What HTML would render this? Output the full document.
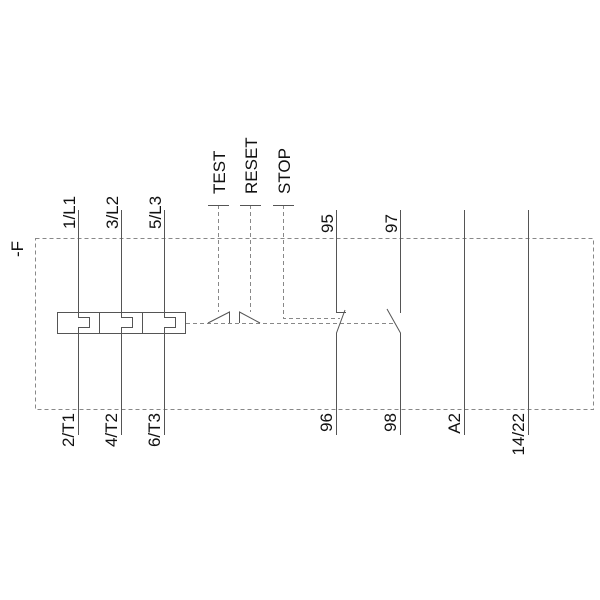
<!DOCTYPE html>
<html><head><meta charset="utf-8"><style>
html,body{margin:0;padding:0;background:#fff;}
svg{display:block;}
text{font-family:"Liberation Sans",sans-serif;font-size:17px;fill:#111;}
</style></head><body>
<svg width="600" height="600" viewBox="0 0 600 600" xmlns="http://www.w3.org/2000/svg">
<g fill="none" stroke="#888" stroke-width="1" stroke-dasharray="4,3">
<rect x="35.5" y="238.5" width="558" height="171"/>
<line x1="186" y1="323.5" x2="394" y2="323.5"/>
<line x1="218.5" y1="205" x2="218.5" y2="312"/>
<line x1="250.5" y1="205" x2="250.5" y2="312"/>
<polyline points="283.5,205 283.5,318.5 340,318.5"/>
</g>
<g fill="none" stroke="#555" stroke-width="1">
<line x1="208" y1="205.5" x2="229" y2="205.5"/>
<line x1="240" y1="205.5" x2="261" y2="205.5"/>
<line x1="273" y1="205.5" x2="294" y2="205.5"/>
<rect x="57.5" y="312.5" width="128" height="21"/>
<line x1="99.5" y1="312" x2="99.5" y2="334"/>
<line x1="142.5" y1="312" x2="142.5" y2="334"/>
<polyline points="78.5,210 78.5,317.5 89.5,317.5 89.5,327.5 78.5,327.5 78.5,435"/>
<polyline points="121.5,210 121.5,317.5 132.5,317.5 132.5,327.5 121.5,327.5 121.5,435"/>
<polyline points="164.5,210 164.5,317.5 175.5,317.5 175.5,327.5 164.5,327.5 164.5,435"/>
<polyline points="208,323 229.5,312 229.5,323"/>
<polyline points="239.5,323 239.5,312 260,323"/>
<polyline points="336.5,210 336.5,312.5 346,312.5"/>
<polyline points="345,310 336.5,333 336.5,435"/>
<line x1="400.5" y1="210" x2="400.5" y2="313"/>
<polyline points="387,309 400.5,333 400.5,435"/>
<line x1="464.5" y1="210" x2="464.5" y2="435"/>
<line x1="528.5" y1="210" x2="528.5" y2="435"/>
</g>
<text transform="translate(23,257) rotate(-90)">-F</text>
<text transform="translate(75,229) rotate(-90)">1/L1</text>
<text transform="translate(118,229) rotate(-90)">3/L2</text>
<text transform="translate(161,229) rotate(-90)">5/L3</text>
<text transform="translate(225,194) rotate(-90)">TEST</text>
<text transform="translate(257,194) rotate(-90)">RESET</text>
<text transform="translate(290,194) rotate(-90)">STOP</text>
<text transform="translate(333,233) rotate(-90)">95</text>
<text transform="translate(397,233) rotate(-90)">97</text>
<text text-anchor="end" transform="translate(74,413) rotate(-90)">2/T1</text>
<text text-anchor="end" transform="translate(117,413) rotate(-90)">4/T2</text>
<text text-anchor="end" transform="translate(160,413) rotate(-90)">6/T3</text>
<text text-anchor="end" transform="translate(332,413) rotate(-90)">96</text>
<text text-anchor="end" transform="translate(396,413) rotate(-90)">98</text>
<text text-anchor="end" transform="translate(460,413) rotate(-90)">A2</text>
<text text-anchor="end" transform="translate(524,413) rotate(-90)">14/22</text>
</svg>
</body></html>
